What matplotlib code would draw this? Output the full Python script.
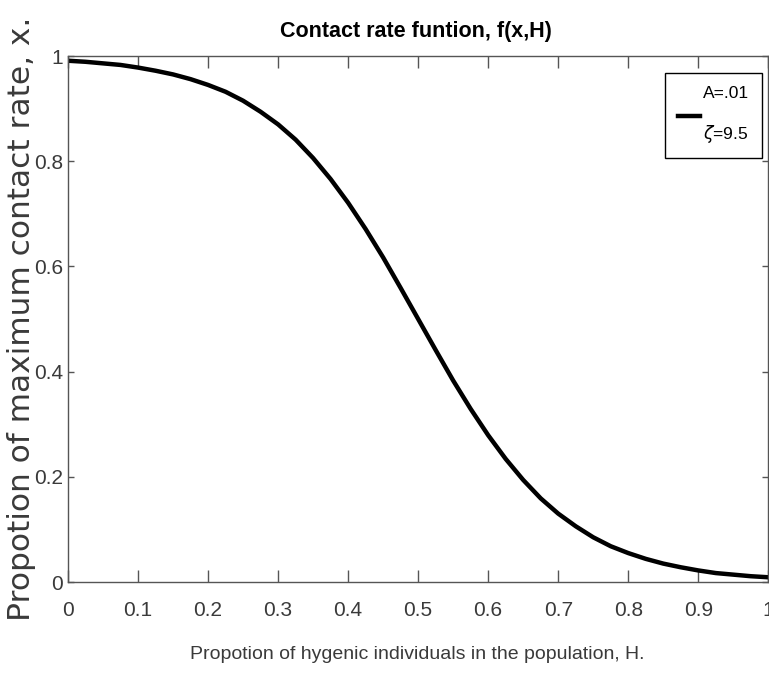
import matplotlib.pyplot as plt

# proportion of hygienic individuals H and the contact-rate curve f(x,H)
h_vals = [0.000, 0.025, 0.050, 0.075, 0.100, 0.125, 0.150, 0.175, 0.200, 0.225,
          0.250, 0.275, 0.300, 0.325, 0.350, 0.375, 0.400, 0.425, 0.450, 0.475,
          0.500, 0.525, 0.550, 0.575, 0.600, 0.625, 0.650, 0.675, 0.700, 0.725,
          0.750, 0.775, 0.800, 0.825, 0.850, 0.875, 0.900, 0.925, 0.950, 0.975, 1.000]
f_vals = [0.991, 0.989, 0.986, 0.983, 0.978, 0.972, 0.965, 0.956, 0.945, 0.932,
          0.915, 0.894, 0.870, 0.841, 0.806, 0.766, 0.721, 0.671, 0.617, 0.559,
          0.500, 0.441, 0.383, 0.329, 0.279, 0.234, 0.194, 0.159, 0.130, 0.106,
          0.085, 0.068, 0.055, 0.044, 0.035, 0.028, 0.022, 0.017, 0.014, 0.011, 0.009]

x_ticks = [0, 0.1, 0.2, 0.3, 0.4, 0.5, 0.6, 0.7, 0.8, 0.9, 1]
x_tick_labels = ['0', '0.1', '0.2', '0.3', '0.4', '0.5', '0.6', '0.7', '0.8', '0.9', '1']
y_ticks = [0, 0.2, 0.4, 0.6, 0.8, 1]
y_tick_labels = ['0', '0.2', '0.4', '0.6', '0.8', '1']

sans = ['Liberation Sans', 'DejaVu Sans']
wide = ['DejaVu Sans']

fig = plt.figure(figsize=(7.69, 6.80), dpi=100)
ax = fig.add_axes([68 / 769, 1 - 582 / 680, 700.3 / 769, 526 / 680])

ax.plot(h_vals, f_vals, color='black', linewidth=3.2, label='A=.01\n$\\zeta$=9.5')

ax.set_xlim(0, 1)
ax.set_ylim(0, 1)
ax.set_xticks(x_ticks)
ax.set_xticklabels(x_tick_labels, family=sans, fontsize=15, color='#3a3a3a')
ax.set_yticks(y_ticks)
ax.set_yticklabels(y_tick_labels, family=sans, fontsize=15, color='#3a3a3a')

ax.tick_params(axis='x', direction='in', length=8.6, width=1, color='#555555',
               top=True, pad=13.5)
ax.tick_params(axis='y', direction='in', length=4.3, width=1, color='#555555',
               right=True, pad=3.5)
for sp in ax.spines.values():
    sp.set_color('#555555')
    sp.set_linewidth(1)

ax.set_title('Contact rate funtion, f(x,H)', family=sans, fontweight='bold',
             fontsize=15.5, x=0.497, y=1.036, pad=0)

ax.set_xlabel('Propotion of hygenic individuals in the population, H.',
              family=sans, fontsize=14, color='#3a3a3a')
ax.xaxis.set_label_coords(0.499, -0.1215)
ax.set_ylabel('Propotion of maximum contact rate, x.', family=wide,
              fontsize=22.5, color='#3a3a3a')
ax.yaxis.set_label_coords(-0.046, 0.5)

leg = ax.legend(loc='upper right', bbox_to_anchor=((762 - 68) / 700.3, (582 - 73) / 526),
                borderaxespad=0, fancybox=False, edgecolor='black', framealpha=1,
                handlelength=1.3, handletextpad=0.15, borderpad=0.75,
                prop={'family': sans, 'size': 12.5})
leg.get_frame().set_linewidth(1)
for t in leg.get_texts():
    t.set_linespacing(2.4)

fig.savefig('out.png', dpi=100)
